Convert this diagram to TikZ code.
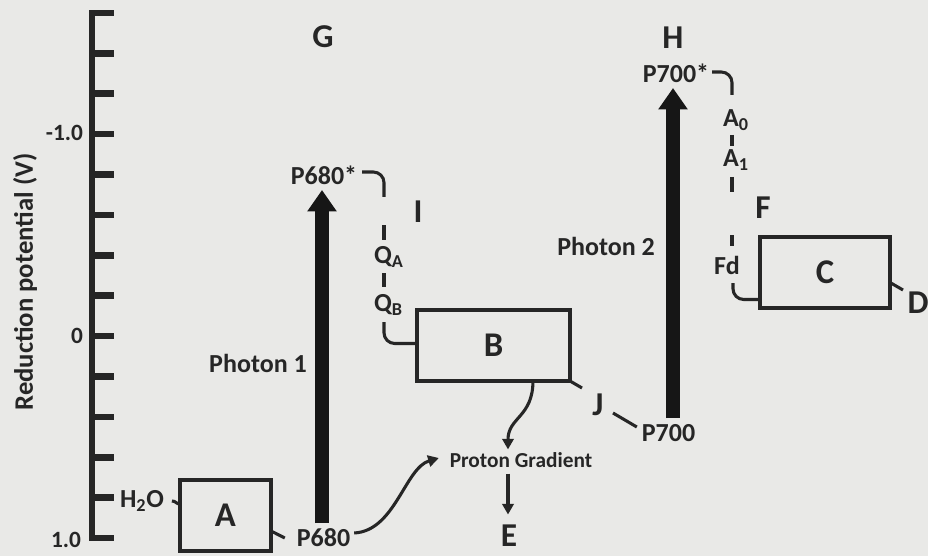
\documentclass[tikz,border=0pt]{standalone}
\usepackage{fontspec}
\setmainfont{Carlito}
\usetikzlibrary{arrows.meta}
\definecolor{paper}{RGB}{233,233,231}
\definecolor{ink}{RGB}{38,38,38}
\definecolor{darkink}{RGB}{22,22,22}
\begin{document}
\begin{tikzpicture}[x=0.75pt,y=-0.75pt,
  every node/.style={font=\fontsize{19.5}{22}\selectfont\bfseries, text=ink, inner sep=0pt, outer sep=0pt},
  bigletter/.style={font=\fontsize{25}{28}\selectfont\bfseries},
  ticklbl/.style={font=\fontsize{17.5}{20}\selectfont\bfseries, anchor=east},
  smalllbl/.style={font=\fontsize{16}{19}\selectfont\bfseries},
  conn/.style={draw=ink, line width=2.3pt},
  thinarrow/.style={conn, -{Triangle[width=8.5pt,length=8pt]}},
  box/.style={draw=ink, line width=2.6pt, minimum height=53.25pt, font=\fontsize{26}{28}\selectfont\bfseries},
  axisline/.style={draw=ink, line width=5pt},
  photon/.style={draw=darkink, line width=10.5pt, -{Triangle[width=21pt,length=16pt]}},
  roundbend/.style={rounded corners=8pt}]
\fill[paper] (0,0) rectangle (928,556);
\useasboundingbox (0,0) rectangle (928,556);

% axis
\draw[axisline] (92,10.5) -- (92,540.5);
\foreach \k in {0,...,13}
  \draw[axisline] (92,13+\k*40.385) -- (114,13+\k*40.385);
\node[ticklbl] (tm1) at (83,133) {-1.0};
\node[ticklbl] (t0) at (83,336) {0};
\node[ticklbl] (t1) at (81,540) {1.0};
\node[rotate=90, font=\fontsize{20}{22}\selectfont\bfseries] (ylab) at (25,282) {Reduction potential (V)};

% letters
\node[bigletter] (G) at (323,37) {G};
\node[bigletter] (H) at (673,38) {H};
\node[bigletter] (I) at (418,212) {I};
\node[bigletter] (F) at (763,208) {F};
\node[bigletter] (J) at (598,405) {J};
\node[bigletter] (E) at (509,536) {E};
\node[bigletter] (D) at (918,303) {D};

% boxes
\node[box, minimum width=68.25pt] (A) at (225.5,515.5) {A};
\node[box, minimum width=114.75pt] (B) at (493.5,345.5) {B};
\node[box, minimum width=97.5pt] (C) at (825,272.5) {C};

% species
\node (H2O) at (142,501) {H\textsubscript{2}O};
\node (P680) at (323.5,538) {P680};
\node (P680s) at (324,175) {P680*};
\node (P700) at (668.5,433) {P700};
\node (P700s) at (676,73) {P700*};
\node (QA) at (383,257) {Q\rlap{\textsubscript{A}}};
\node (QB) at (383,305) {Q\rlap{\textsubscript{B}}};
\node (A0) at (731,120) {A\rlap{\textsubscript{0}}};
\node (A1) at (731,160) {A\rlap{\textsubscript{1}}};
\node (Fd) at (727,265) {Fd};
\node[smalllbl] (PG) at (521,460) {Proton Gradient};
\node (ph1) at (258,363) {Photon 1};
\node (ph2) at (606,246) {Photon 2};

% photon arrows
\coordinate (p1b) at (322,523);
\coordinate (p1t) at (322,190);
\coordinate (p2b) at (673,418);
\coordinate (p2t) at (673,88);
\draw[photon] (p1b) -- (p1t);
\draw[photon] (p2b) -- (p2t);

% water side
\draw[conn] ([xshift=6pt]H2O.east) .. controls +(4,0) and +(-4,0) .. ([shift={(0,24)}]A.north west);
\draw[conn] ([shift={(0,-20)}]A.south east) -- ([xshift=-9pt]P680.west);
\draw[thinarrow] ([shift={(4,-5)}]P680.east) .. controls (395,531) and (405,468) .. ([shift={(-11,-2)}]PG.west);

% PSII chain
\draw[conn, roundbend] ([shift={(5,-3)}]P680s.east) -| ([shift={(1,-60)}]QA.center);
\draw[conn] ([shift={(1,-32)}]QA.center) -- ([shift={(1,-17)}]QA.center);
\draw[conn] ([shift={(1,16)}]QA.center) -- ([shift={(1,-18)}]QB.center);
\draw[conn, roundbend] ([shift={(1,17)}]QB.center) |- ([shift={(0,-2)}]B.west);

% B outputs
\draw[thinarrow] ([xshift=29.6pt]B.south) .. controls +(0,36) and +(0,-32) .. ([shift={(-1,-3)}]E.north |- PG.north);
\draw[thinarrow, shorten <=4.5pt, shorten >=8pt] ([xshift=-0.75pt]E.north |- PG.south) -- ([xshift=-0.75pt]E.north);
\draw[conn] (B.south east) -- ([shift={(-16,-17)}]J.center);
\draw[conn] ([shift={(15,8)}]J.center) -- ([shift={(-5,-6)}]P700.west);

% PSI chain
\draw[conn, roundbend] ([shift={(3,-1)}]P700s.east) -| ([shift={(1,-25)}]A0.center);
\draw[conn] ([shift={(1,15)}]A0.center) -- ([shift={(1,-14)}]A1.center);
\draw[conn] ([shift={(1,17)}]A1.center) -- ([shift={(1,32)}]A1.center);
\draw[conn] ([shift={(5,-30)}]Fd.center) -- ([shift={(5,-19)}]Fd.center);
\draw[conn, roundbend] ([shift={(6,18)}]Fd.center) |- ([shift={(0,27)}]C.west);
\draw[conn] ([shift={(0,10)}]C.east) -- ([shift={(-15,-13)}]D.center);
\end{tikzpicture}
\end{document}
